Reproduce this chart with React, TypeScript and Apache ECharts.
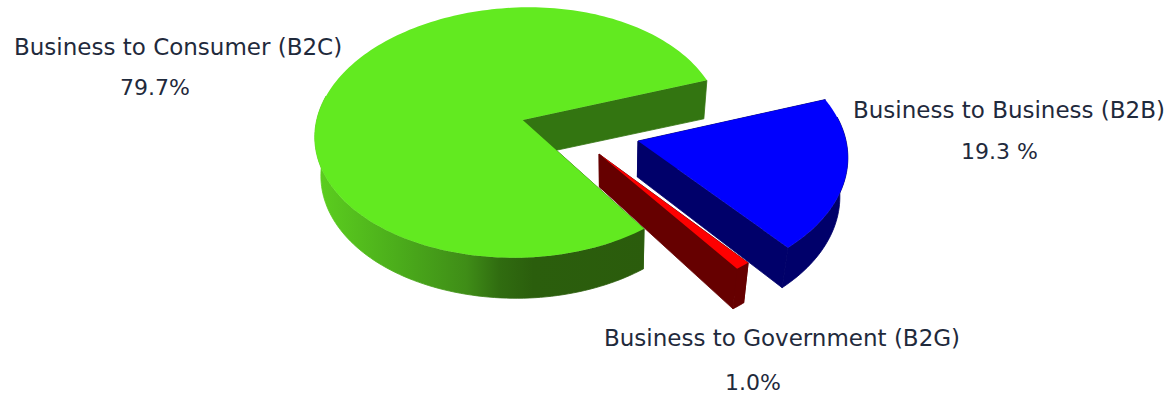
import React, { useEffect, useRef } from "react";
import * as echarts from "echarts";

// Slices in paint order, running clockwise from the start angle.
const categories = ["Business to Business (B2B)", "Business to Government (B2G)", "Business to Consumer (B2C)"];
const shares = [19.3, 1.0, 79.7];
const shareLabels = ["19.3 %", "1.0%", "79.7%"];

const FONT = '"DejaVu Sans", sans-serif';
const START_DEG = 18.5;
const RADIUS_X = 206;
const RADIUS_Y = 124;
const VANISH_X = 620;

const slices = [
  { apex: [638, 141], scale: 1.02, spin: 1.5, rRight: 204, perspective: 0.13, shear: 0, apexDepth: 36, top: "#0000fe", wall: "#00006a", rim: "#00006a" },
  { apex: [599, 154], scale: 1.05, spin: 0.5, rRight: 206, perspective: 0.1, shear: 0, apexDepth: 33, top: "#fe0000", wall: "#660000", rim: "#660000" },
  { apex: [522.7, 120], scale: 1, spin: 0.8, rRight: 199, perspective: 0.1, shear: -0.06, apexDepth: 37, top: "#62ea20", wall: "#337511", rim: "gradient" },
];

const labelPlaces = [
  { nameX: 853, nameY: 110, valueX: 961, valueY: 151 },
  { nameX: 604, nameY: 338, valueX: 725, valueY: 382 },
  { nameX: 14, nameY: 47, valueX: 120, valueY: 87 },
];

const rimPoint = (s: any, deg: number): number[] => {
  const a = (deg * Math.PI) / 180;
  const c = Math.cos(a);
  const sn = Math.sin(a);
  const k = s.scale / (1 + s.perspective * sn);
  const dy = -RADIUS_Y * sn * k;
  return [s.apex[0] + (c > 0 ? s.rRight : RADIUS_X) * c * k + s.shear * dy, s.apex[1] + dy];
};

// Bottom edge of the disc: slightly narrower than the top, a little deeper towards the viewer.
const lowerShift = (x: number) => x - (x > VANISH_X ? 0.035 : 0.02) * (x - VANISH_X);
const rimDepth = (deg: number) => 38.5 + 2 * Math.max(0, -Math.sin((deg * Math.PI) / 180));

const renderSlice = (params: any, api: any) => {
  const i = params.dataIndex;
  const s = slices[i];
  let before = 0;
  for (let j = 0; j < i; j++) before += shares[j];
  const from = START_DEG - (before / 100) * 360 + s.spin;
  const to = from - (api.value(0) / 100) * 360;

  const degs: number[] = [];
  const steps = Math.max(8, Math.ceil((from - to) / 1.5));
  for (let n = 0; n <= steps; n++) degs.push(from + ((to - from) * n) / steps);
  const arc = degs.map((d) => rimPoint(s, d));
  const drop = (d: number) => {
    const p = rimPoint(s, d);
    return [lowerShift(p[0]), p[1] + rimDepth(d)];
  };
  const apexLow = [lowerShift(s.apex[0]), s.apex[1] + s.apexDepth];

  // Only the front of the rim shows; the back would spill over the inner wall.
  const frontDegs = degs.filter((d) => Math.sin((d * Math.PI) / 180) < 0.2);
  const frontTop = frontDegs.map((d) => rimPoint(s, d));
  const frontLow = frontDegs.map(drop);

  const rimFill =
    s.rim === "gradient"
      ? new echarts.graphic.LinearGradient(
          316, 0, 650, 0,
          [
            { offset: 0, color: "#5ccf1f" },
            { offset: 0.25, color: "#4bac1b" },
            { offset: 0.45, color: "#3f8d17" },
            { offset: 0.55, color: "#306c10" },
            { offset: 0.65, color: "#2b5e0d" },
            { offset: 1, color: "#2b5c0c" },
          ],
          true
        )
      : s.rim;

  const place = labelPlaces[i];
  const text = (content: string, x: number, y: number, fontSize: number) => ({
    type: "text",
    style: { text: content, x, y, fontFamily: FONT, fontSize, fill: "#1f2a3c", textAlign: "left", textVerticalAlign: "middle" },
  });
  const solid = (fill: any) => ({ fill, stroke: fill, lineWidth: 0.8 });

  return {
    type: "group",
    children: [
      { type: "polygon", shape: { points: [s.apex, arc[0], drop(degs[0]), apexLow] }, style: solid(s.wall) },
      { type: "polygon", shape: { points: [s.apex, arc[steps], drop(degs[steps]), apexLow] }, style: solid(s.wall) },
      { type: "polygon", shape: { points: [...frontTop, ...frontLow.slice().reverse()] }, style: solid(rimFill) },
      { type: "polygon", shape: { points: [s.apex, ...arc] }, style: { fill: s.top } },
      text(categories[i], place.nameX, place.nameY, 23),
      text(shareLabels[i], place.valueX, place.valueY, 22),
    ],
  };
};

export default function App() {
  const ref = useRef<HTMLDivElement>(null);
  useEffect(() => {
    const chart = echarts.init(ref.current!, null, { renderer: "svg" });
    chart.setOption({
      animation: false,
      backgroundColor: "#ffffff",
      series: [
        {
          type: "custom",
          coordinateSystem: "none",
          silent: true,
          clip: false,
          data: shares.map((v) => [v]),
          renderItem: renderSlice,
        },
      ],
    });
    return () => chart.dispose();
  }, []);
  return <div ref={ref} style={{ position: "fixed", left: 0, top: 0, width: 1167, height: 396 }} />;
}
